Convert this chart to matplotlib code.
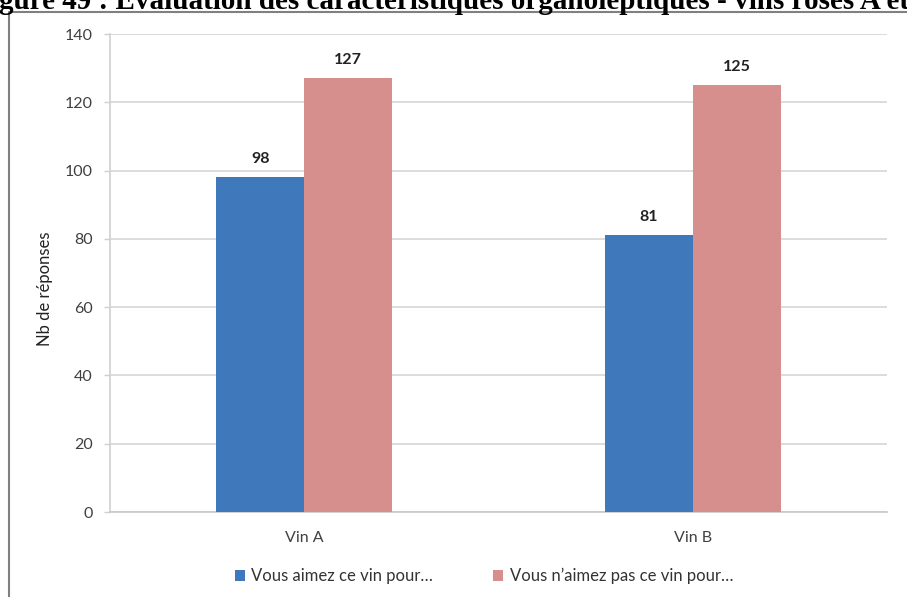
import matplotlib
matplotlib.use("Agg")
import matplotlib.pyplot as plt
from matplotlib.lines import Line2D
import numpy as np

categories = ["Vin A", "Vin B"]
series_names = ["Vous aimez ce vin pour…", "Vous n’aimez pas ce vin pour…"]
aime = [98, 81]
aime_pas = [127, 125]
yticks = [0, 20, 40, 60, 80, 100, 120, 140]
title = "gure 49 : Evaluation des caractéristiques organoleptiques - vins rosés A et B"

W, H = 907, 597
fig = plt.figure(figsize=(W / 100, H / 100), dpi=100)
fig.patch.set_facecolor("white")

ax = fig.add_axes([110 / W, (H - 512) / H, (887 - 110) / W, (512 - 34) / H])
x = np.arange(len(categories))
bw = 0.227
c_blue = "#3F79BB"
c_pink = "#D78F8E"
b1 = ax.bar(x - bw / 2, aime, bw, color=c_blue, label=series_names[0], zorder=3)
b2 = ax.bar(x + bw / 2, aime_pas, bw, color=c_pink, label=series_names[1], zorder=3)

font = "Lato"
for bars in (b1, b2):
    for r in bars:
        ax.annotate(f"{int(r.get_height())}", (r.get_x() + r.get_width() / 2, r.get_height()),
                    xytext=(0, 13), textcoords="offset points", ha="center", va="center",
                    fontsize=11.5, fontweight="bold", family=font, color="#222222")

ax.set_xlim(-0.5, 1.5)
ax.set_ylim(0, 140)
ax.set_yticks(yticks)
ax.set_yticklabels([str(v) for v in yticks], family=font, fontsize=11.5, color="#404040")
ax.set_xticks(x)
ax.set_xticklabels(categories, family=font, fontsize=11.5, color="#404040")
ax.tick_params(axis="x", length=0, pad=14)
ax.tick_params(axis="y", length=4.5, width=1, color="#D0D0D0", pad=8)
ax.grid(axis="y", color="#D6D6D6", lw=1.2, zorder=0)
for s in ("top", "right"):
    ax.spines[s].set_visible(False)
ax.spines["left"].set_color("#D0D0D0")
ax.spines["left"].set_linewidth(1.2)
ax.spines["bottom"].set_color("#C8C8C8")
ax.spines["bottom"].set_linewidth(1.2)

ax.set_ylabel("Nb de réponses", family=font, fontsize=12, color="#222222")
ax.yaxis.set_label_coords(-57 / (887 - 110), (512 - 289) / (512 - 34))

leg = fig.legend(handles=[b1, b2], labels=series_names, loc="center",
                 bbox_to_anchor=(484 / W, (H - 576) / H), ncol=2, frameon=False,
                 prop={"family": font, "size": 12}, handlelength=0.6, handleheight=0.6,
                 handletextpad=0.4, columnspacing=3.6)
for t in leg.get_texts():
    t.set_color("#333333")

# outer frame (partial)
fig.add_artist(Line2D([9 / W, 9 / W, 1.0], [0.0, (H - 12) / H, (H - 12) / H],
                      transform=fig.transFigure, color="#808080", lw=1.5))

fig.text(-1 / W, (H - 9) / H, title, ha="left", va="baseline",
         family="Liberation Serif", fontweight="bold", fontsize=21, color="black")

fig.savefig("out.png", dpi=100)
